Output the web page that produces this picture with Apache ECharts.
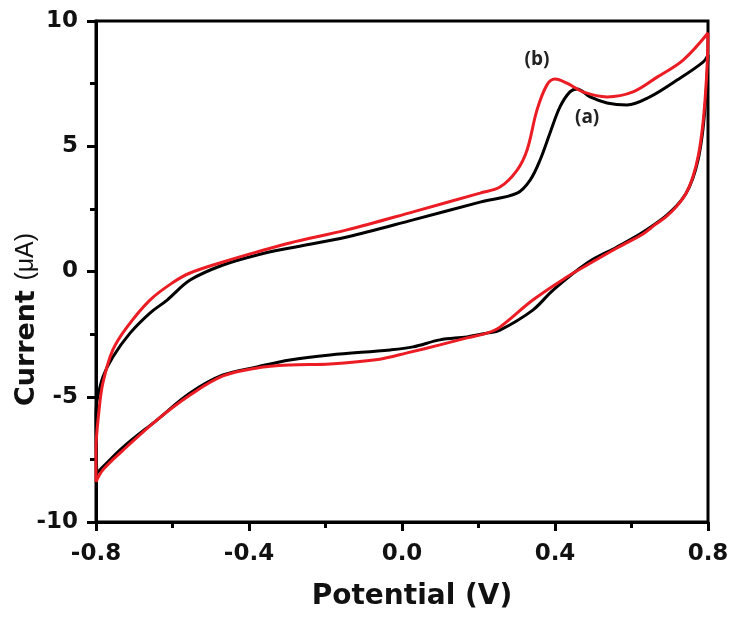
<!DOCTYPE html>
<html>
<head>
<meta charset="utf-8">
<script src="https://cdn.jsdelivr.net/npm/echarts@6/dist/echarts.min.js"></script>
<style>html,body{margin:0;padding:0;background:#fff}#c{width:750px;height:623px}</style>
</head>
<body>
<div id="c"></div>
<script>
// Curve (a) black: forward (anodic) sweep then reverse (cathodic) sweep
const potentialA = [-0.800,-0.797,-0.782,-0.756,-0.711,-0.659,-0.614,-0.554,-0.468,-0.379,-0.293,-0.144,0.029,0.204,0.301,0.335,0.361,0.387,0.413,0.439,0.458,0.492,0.536,0.588,0.648,0.719,0.787,0.800,
  0.797,0.792,0.785,0.774,0.760,0.742,0.718,0.690,0.660,0.622,0.562,0.484,0.395,0.342,0.256,0.222,0.170,0.099,0.029,-0.031,-0.188,-0.293,-0.379,-0.468,-0.554,-0.641,-0.729,-0.782,-0.797,-0.800];
const currentA = [-5.65,-5.13,-4.21,-3.41,-2.46,-1.66,-1.14,-0.34,0.26,0.66,0.94,1.38,2.06,2.77,3.13,3.65,4.45,5.53,6.57,7.17,7.29,6.97,6.73,6.65,6.97,7.64,8.36,8.64,
  7.60,6.50,5.45,4.45,3.70,3.10,2.62,2.22,1.88,1.50,0.98,0.34,-0.74,-1.54,-2.34,-2.46,-2.61,-2.73,-3.01,-3.13,-3.33,-3.53,-3.81,-4.13,-4.85,-5.93,-7.01,-7.80,-8.04,-5.65];
// Curve (b) red
const potentialB = [-0.800,-0.800,-0.792,-0.782,-0.756,-0.719,-0.659,-0.600,-0.554,-0.468,-0.379,-0.293,-0.144,0.029,0.204,0.256,0.301,0.327,0.353,0.379,0.400,0.431,0.473,0.536,0.604,0.667,0.735,0.800,
  0.798,0.793,0.786,0.775,0.760,0.742,0.718,0.690,0.660,0.630,0.562,0.484,0.431,0.342,0.256,0.222,0.170,0.099,0.013,-0.058,-0.188,-0.293,-0.379,-0.468,-0.554,-0.641,-0.729,-0.782,-0.800];
const currentB = [-8.40,-7.13,-5.53,-4.45,-3.13,-2.22,-1.14,-0.45,-0.06,0.38,0.78,1.14,1.66,2.38,3.13,3.37,4.05,4.85,6.45,7.45,7.68,7.52,7.17,6.97,7.17,7.76,8.44,9.52,
  8.30,7.00,5.80,4.65,3.75,3.10,2.60,2.18,1.85,1.50,0.94,0.26,-0.22,-1.14,-2.22,-2.46,-2.65,-2.93,-3.25,-3.50,-3.69,-3.73,-3.85,-4.17,-4.93,-5.93,-7.13,-7.92,-8.40];
const curveNames = ['(a)','(b)'];
const labelPosA = [0.484, 6.13];
const labelPosB = [0.353, 8.44];
const xTicks = {min:-0.8, max:0.8, interval:0.4};
const yTicks = {min:-10, max:10, interval:5};

const pairs = (xs, ys) => xs.map((x, i) => [x, ys[i]]);
const font = '"DejaVu Sans", Verdana, sans-serif';

const chart = echarts.init(document.getElementById('c'), null, {renderer:'canvas'});
chart.setOption({
  animation:false,
  backgroundColor:'#fff',
  grid:{left:96, top:21, right:42, bottom:101, outerBoundsMode:'none', containLabel:false,
        show:true, borderColor:'#000', borderWidth:3, backgroundColor:'transparent'},
  xAxis:{
    type:'value', min:xTicks.min, max:xTicks.max, interval:xTicks.interval,
    name:'Potential (V)', nameLocation:'middle', nameGap:61, nameMoveOverlap:false,
    nameTextStyle:{fontFamily:font, fontWeight:'bold', fontSize:28, color:'#111', padding:[0,0,0,20]},
    axisLine:{onZero:false, lineStyle:{color:'#000', width:3}},
    axisTick:{inside:false, length:9, lineStyle:{width:3, color:'#000'}},
    minorTick:{show:true, splitNumber:2, length:6, lineStyle:{width:3, color:'#000'}},
    splitLine:{show:false},
    axisLabel:{margin:21, fontFamily:font, fontWeight:'bold', fontSize:23, color:'#111', formatter:v => v.toFixed(1)}
  },
  yAxis:{
    type:'value', min:yTicks.min, max:yTicks.max, interval:yTicks.interval,
    name:'{b|Current }{n|(μA)}', nameLocation:'middle', nameGap:56, nameRotate:90, nameMoveOverlap:false,
    nameTextStyle:{padding:[0,96,0,0], rich:{b:{fontFamily:font, fontWeight:'bold', fontSize:27, color:'#111'}, n:{fontFamily:'"Liberation Sans", Arial, sans-serif', fontWeight:'normal', fontSize:25, color:'#111'}}},
    axisLine:{onZero:false, lineStyle:{color:'#000', width:3}},
    axisTick:{inside:false, length:9, lineStyle:{width:3, color:'#000'}},
    minorTick:{show:true, splitNumber:2, length:6, lineStyle:{width:3, color:'#000'}},
    splitLine:{show:false},
    axisLabel:{margin:18, fontFamily:font, fontWeight:'bold', fontSize:23, color:'#111'}
  },
  series:[
    {name:curveNames[0], type:'line', data:pairs(potentialA, currentA), showSymbol:false, smooth:0.35,
     lineStyle:{color:'#000', width:3}, itemStyle:{color:'#000'}, z:3,
     markPoint:{symbol:'circle', symbolSize:1, itemStyle:{color:'rgba(0,0,0,0)'},
       label:{show:true, position:'inside', formatter:curveNames[0], fontFamily:'"Open Sans", sans-serif', fontWeight:'bold', fontSize:19, color:'#222'},
       data:[{coord:labelPosA}]}},
    {name:curveNames[1], type:'line', data:pairs(potentialB, currentB), showSymbol:false, smooth:0.35,
     lineStyle:{color:'#ec1c24', width:3}, itemStyle:{color:'#ec1c24'}, z:4,
     markPoint:{symbol:'circle', symbolSize:1, itemStyle:{color:'rgba(0,0,0,0)'},
       label:{show:true, position:'inside', formatter:curveNames[1], fontFamily:'"Open Sans", sans-serif', fontWeight:'bold', fontSize:19, color:'#222'},
       data:[{coord:labelPosB}]}}
  ]
});
</script>
</body>
</html>
